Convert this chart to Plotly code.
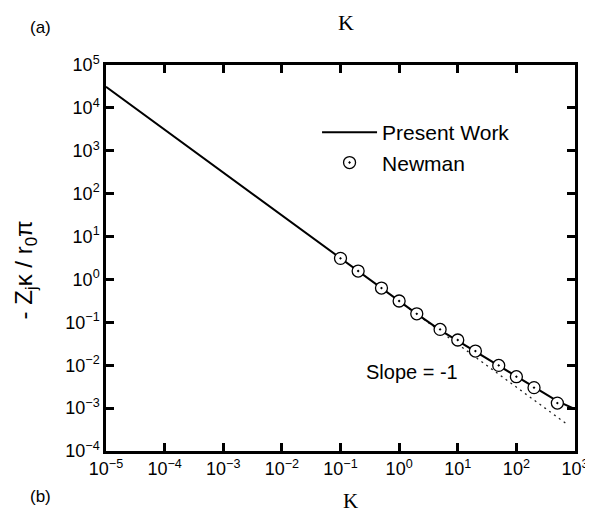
import plotly.graph_objects as go

# ---- data ----
line_k = [1e-5, 1e-3, 1e-1, 1, 2, 5, 10, 20, 50, 100, 200, 500, 1000]
line_y = [3.1e4, 310, 3.1, 0.31, 0.157, 0.066, 0.037, 0.021, 0.0098, 0.0054, 0.0030, 0.00145, 0.00095]

newman_k = [0.1, 0.2, 0.5, 1, 2, 5, 10, 20, 50, 100, 200, 500]
newman_y = [3.1, 1.57, 0.63, 0.314, 0.158, 0.0684, 0.0387, 0.0214, 0.0099, 0.0054, 0.0030, 0.00131]

slope_k = [1, 770]
slope_y = [0.31, 4.0e-4]

x_tick_vals = [1e-5, 1e-4, 1e-3, 1e-2, 1e-1, 1, 10, 100, 1000]
x_tick_exp = ["−5", "−4", "−3", "−2", "−1", "0", "1", "2", "3"]
y_tick_vals = [1e-4, 1e-3, 1e-2, 1e-1, 1, 10, 100, 1e3, 1e4, 1e5]
y_tick_exp = ["−4", "−3", "−2", "−1", "0", "1", "2", "3", "4", "5"]

SANS = "Liberation Sans, Arial, sans-serif"
SERIF = "Liberation Serif, Times New Roman, serif"


def sup_label(e):
    return "10<sup>" + e + "</sup>"


fig = go.Figure()
fig.add_trace(go.Scatter(x=slope_k, y=slope_y, mode="lines", showlegend=False,
                         line=dict(color="#222", width=1.3, dash="2px,4px")))
fig.add_trace(go.Scatter(x=line_k, y=line_y, mode="lines", name="Present Work",
                         line=dict(color="black", width=2)))
fig.add_trace(go.Scatter(x=newman_k, y=newman_y, mode="markers", name="Newman",
                         marker=dict(symbol="circle-dot", size=12, color="white",
                                     line=dict(color="black", width=1.3))))

axis_common = dict(type="log", showline=True, linewidth=2.5, linecolor="black",
                   mirror="ticks", ticks="inside", ticklen=8, tickwidth=2.5,
                   tickcolor="black", showgrid=False, zeroline=False,
                   ticklabeloverflow="allow",
                   tickfont=dict(family=SANS, size=18, color="black"))

fig.update_xaxes(range=[-5, 3], tickvals=x_tick_vals,
                 ticktext=[sup_label(e) for e in x_tick_exp], ticklabelstandoff=0,
                 **axis_common)
fig.update_yaxes(range=[-4, 5], tickvals=y_tick_vals,
                 ticktext=[sup_label(e) for e in y_tick_exp], **axis_common)


def px_x(px):
    return (px - 98) / 477


def px_y(py):
    return (443 - py) / 386


fig.update_layout(
    width=593, height=514,
    margin=dict(l=98, r=18, t=57, b=71),
    plot_bgcolor="white", paper_bgcolor="white",
    font=dict(family=SANS, color="black"),
    legend=dict(x=0.45, y=0.878, xanchor="left", yanchor="top",
                bgcolor="rgba(0,0,0,0)", font=dict(family=SANS, size=21),
                itemwidth=55, tracegroupgap=0),
    annotations=[
        dict(text="- Z<sub>j</sub>κ / r<sub>0</sub>π", textangle=-90,
             x=px_x(16), y=px_y(262), xref="paper", yref="paper",
             xanchor="center", yanchor="middle", showarrow=False,
             font=dict(family=SANS, size=24)),
        dict(text="Slope = -1", x=0.22, y=-2.15, xref="x", yref="y", showarrow=False,
             xanchor="center", yanchor="middle", font=dict(family=SANS, size=20)),
        dict(text="K", x=px_x(342), y=px_y(14), xref="paper", yref="paper",
             xanchor="center", yanchor="middle",
             showarrow=False, font=dict(family=SERIF, size=22)),
        dict(text="K", x=px_x(347), y=px_y(493), xref="paper", yref="paper",
             xanchor="center", yanchor="middle",
             showarrow=False, font=dict(family=SERIF, size=21)),
        dict(text="(a)", x=px_x(31), y=px_y(19), xref="paper", yref="paper",
             xanchor="center", yanchor="middle",
             showarrow=False, font=dict(family=SANS, size=17)),
        dict(text="(b)", x=px_x(31), y=px_y(488), xref="paper", yref="paper",
             xanchor="center", yanchor="middle",
             showarrow=False, font=dict(family=SANS, size=17)),
    ],
)

fig.write_html("out.html")
